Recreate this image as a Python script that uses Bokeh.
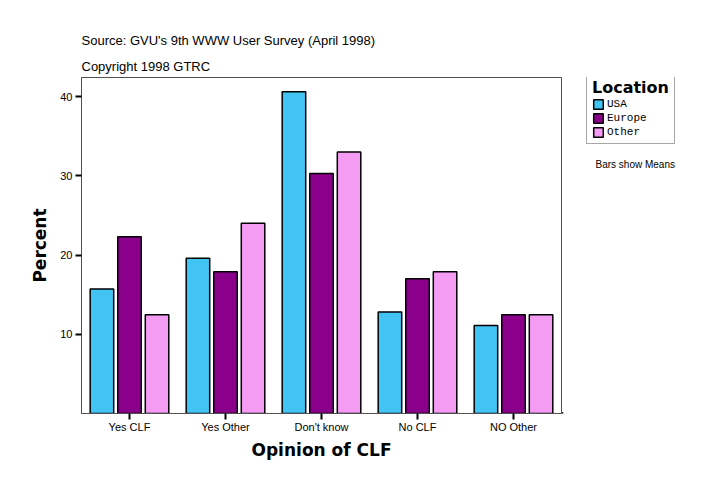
from bokeh.plotting import figure
from bokeh.layouts import row
from bokeh.models import (ColumnDataSource, FactorRange, Range1d, Label, Legend,
                          LegendItem, FixedTicker, Title)
from bokeh.transform import dodge
from bokeh.embed import file_html
from bokeh.resources import INLINE

# data
opinions = ["Yes CLF", "Yes Other", "Don't know", "No CLF", "NO Other"]
usa = [15.7, 19.6, 40.6, 12.8, 11.1]
europe = [22.3, 17.9, 30.3, 17.0, 12.45]
other = [12.45, 24.0, 33.0, 17.9, 12.45]
locations = ["USA", "Europe", "Other"]
colors = ["#41C4F4", "#8B008B", "#F49CF4"]
y_ticks = [10, 20, 30, 40]

source = ColumnDataSource(data=dict(opinion=opinions, USA=usa, Europe=europe, Other=other))

p = figure(width=562, height=496, output_backend="svg", toolbar_location=None,
           x_range=FactorRange(factors=opinions, range_padding=0),
           y_range=Range1d(0, 42.4),
           min_border_left=81, min_border_right=1, min_border_top=77, min_border_bottom=83)

p.background_fill_color = "white"
p.border_fill_color = "white"
p.outline_line_color = "#505050"
p.outline_line_width = 1
p.grid.visible = False

offsets = [-0.287, 0.0, 0.287]
for loc, off, col in zip(locations, offsets, colors):
    p.vbar(x=dodge("opinion", off, range=p.x_range), top=loc, width=0.245,
           source=source, fill_color=col, line_color="black", line_width=1.5)

# axes
for ax in (p.xaxis, p.yaxis):
    ax.axis_line_color = "#505050"
    ax.major_tick_line_color = "black"
    ax.major_tick_line_width = 2
    ax.major_tick_out = 6
    ax.major_tick_in = 0
    ax.minor_tick_line_color = None
    ax.major_label_text_font = "Liberation Sans"
    ax.major_label_text_font_size = "11px"
    ax.major_label_text_color = "black"
    ax.axis_label_text_font = "DejaVu Sans"
    ax.axis_label_text_font_style = "bold"
    ax.axis_label_text_font_size = "17px"
    ax.axis_label_text_color = "black"

p.yaxis.ticker = FixedTicker(ticks=y_ticks)
p.yaxis.major_label_standoff = 3
p.xaxis.major_label_standoff = 1
p.xaxis.axis_label = "Opinion of CLF"
p.yaxis.axis_label = "Percent"
p.xaxis.axis_label_standoff = 4
p.yaxis.axis_label_standoff = 7

# header text
p.add_layout(Title(text="Copyright 1998 GTRC", align="left", standoff=8,
                   text_font="Liberation Sans", text_font_size="13px",
                   text_font_style="normal", text_color="black"), "above")
p.add_layout(Title(text="Source: GVU's 9th WWW User Survey (April 1998)", align="left",
                   standoff=9, text_font="Liberation Sans", text_font_size="13px",
                   text_font_style="normal", text_color="black"), "above")

# side strip for the legend (annotations outside the frame get clipped in svg)
side = figure(width=162, height=496, output_backend="svg", toolbar_location=None,
              x_range=Range1d(0, 162), y_range=Range1d(0, 496),
              x_axis_location=None, y_axis_location=None,
              min_border=0)
side.outline_line_color = None
side.grid.visible = False
side.background_fill_color = "white"
side.border_fill_color = "white"

# swatch renderers only feed the legend; their one bar lies off the strip
swatches = []
for col in colors:
    swatches.append(side.vbar(x=[-100], top=[1], width=1, fill_color=col,
                              line_color="black", line_width=1.5))

# the strip's frame lines up with the main frame, so offsets are from its bottom
legend = Legend(items=[LegendItem(label=l, renderers=[r]) for l, r in zip(locations, swatches)],
                location=(24, 269), title="Location",
                title_text_font="DejaVu Sans", title_text_font_style="bold",
                title_text_font_size="16px", title_standoff=1, title_text_color="black",
                label_text_font="Liberation Mono", label_text_font_size="11px",
                label_text_color="black",
                glyph_width=12, glyph_height=12, label_height=12, spacing=2,
                padding=5, margin=0, label_standoff=3,
                border_line_color="#505050", border_line_width=1,
                background_fill_color="white", background_fill_alpha=1)
side.add_layout(legend)

side.add_layout(Label(x=33, y=249, x_units="screen", y_units="screen",
                      text="Bars show Means",
                      text_font="Liberation Sans", text_font_size="10px",
                      text_baseline="middle", text_color="black"))

layout = row(p, side)
open("out.html", "w").write(file_html(layout, INLINE))
